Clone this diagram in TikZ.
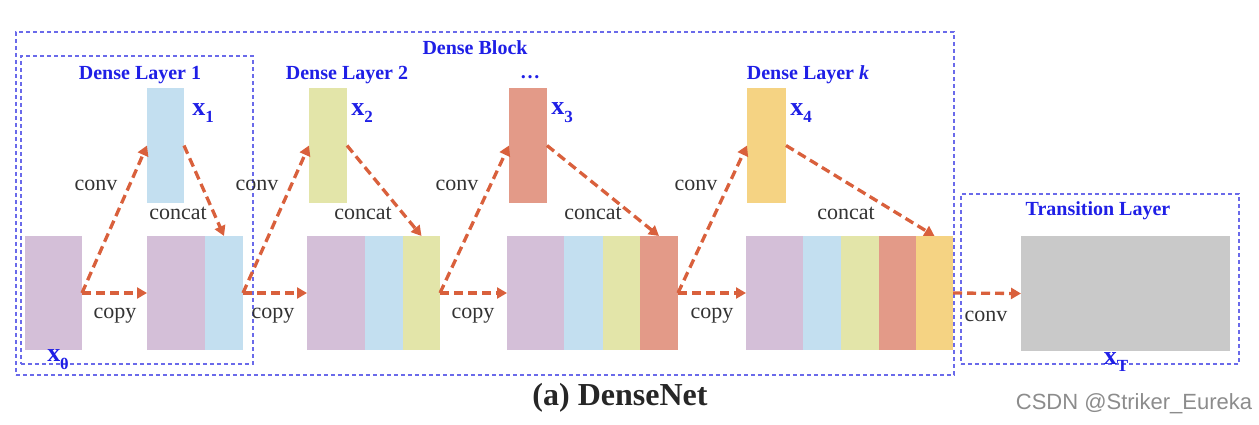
\documentclass[tikz,border=0pt]{standalone}
\usepackage{fontspec}
\setmainfont{Liberation Serif}
\newfontfamily\wmfont{Liberation Sans}
\usetikzlibrary{arrows.meta}
\definecolor{cP}{HTML}{D4BFD8}
\definecolor{cB}{HTML}{C3DFF0}
\definecolor{cY}{HTML}{E3E5A9}
\definecolor{cR}{HTML}{E39A88}
\definecolor{cO}{HTML}{F5D383}
\definecolor{cG}{HTML}{C9C9C9}
\definecolor{cArr}{HTML}{D9603C}
\definecolor{cBox}{HTML}{6A6AEA}
\definecolor{cTxt}{HTML}{1F1FE6}
\definecolor{cLbl}{HTML}{333333}
\newcommand{\xsub}[1]{x\raisebox{-0.3em}{\fontsize{17}{20}\selectfont #1}}
\tikzset{
  blk/.style={inner sep=0pt, outer sep=0pt, draw=none, anchor=north west, minimum height=114pt},
  smallblk/.style={inner sep=0pt, outer sep=0pt, draw=none, anchor=north west, minimum width=38pt, minimum height=115pt},
  arr/.style={draw=cArr, line width=3.3pt, dash pattern=on 9pt off 5pt, -{Triangle[length=10pt,width=11pt]}},
  dbox/.style={draw=cBox, line width=1.7pt, dash pattern=on 4pt off 3pt, inner sep=0pt, anchor=north west},
  ttl/.style={text=cTxt, font=\fontsize{20}{24}\selectfont\bfseries, inner sep=0pt},
  xl/.style={text=cTxt, font=\fontsize{26}{30}\selectfont\bfseries, inner sep=0pt},
  lbl/.style={text=cLbl, font=\fontsize{22}{26}\selectfont, inner sep=0pt},
}
\begin{document}
\begin{tikzpicture}[x=1pt,y=-1pt]
\useasboundingbox (0,0) rectangle (1259,425);
% boxes
\node[dbox, minimum width=938pt, minimum height=343pt] (dblock) at (15,31) {};
\node[dbox, minimum width=232pt, minimum height=308pt] (dl1) at (20,55) {};
\node[dbox, minimum width=278pt, minimum height=170pt] (tl) at (960,193) {};
% bottom blocks
\node[blk, fill=cP, minimum width=57pt] (x0) at (25,236) {};
\node[blk, fill=cP, minimum width=58pt] (b2a) at (147,236) {};
\node[blk, fill=cB, minimum width=38pt] (b2b) at (205,236) {};
\node[blk, fill=cP, minimum width=58pt] (b3a) at (307,236) {};
\node[blk, fill=cB, minimum width=38pt] (b3b) at (365,236) {};
\node[blk, fill=cY, minimum width=37pt] (b3c) at (403,236) {};
\node[blk, fill=cP, minimum width=57pt] (b4a) at (507,236) {};
\node[blk, fill=cB, minimum width=39pt] (b4b) at (564,236) {};
\node[blk, fill=cY, minimum width=37pt] (b4c) at (603,236) {};
\node[blk, fill=cR, minimum width=38pt] (b4d) at (640,236) {};
\node[blk, fill=cP, minimum width=57pt] (b5a) at (746,236) {};
\node[blk, fill=cB, minimum width=38pt] (b5b) at (803,236) {};
\node[blk, fill=cY, minimum width=38pt] (b5c) at (841,236) {};
\node[blk, fill=cR, minimum width=37pt] (b5d) at (879,236) {};
\node[blk, fill=cO, minimum width=37pt] (b5e) at (916,236) {};
\node[blk, fill=cG, minimum width=209pt, minimum height=115pt] (xT) at (1021,236) {};
% small blocks
\node[smallblk, fill=cB, minimum width=37pt] (x1) at (147,88) {};
\node[smallblk, fill=cY] (x2) at (309,88) {};
\node[smallblk, fill=cR] (x3) at (509,88) {};
\node[smallblk, fill=cO, minimum width=39pt] (x4) at (747,88) {};
% arrows
\draw[arr] (x0.east) -- (b2a.west);
\draw[arr] (x0.east) -- (x1.west);
\draw[arr] (x1.east) -- (b2b.north);
\draw[arr] (b2b.east) -- (b3a.west);
\draw[arr] (b2b.east) -- (x2.west);
\draw[arr] (x2.east) -- (b3c.north);
\draw[arr] (b3c.east) -- (b4a.west);
\draw[arr] (b3c.east) -- (x3.west);
\draw[arr] (x3.east) -- (b4d.north);
\draw[arr] (b4d.east) -- (b5a.west);
\draw[arr] (b4d.east) -- (x4.west);
\draw[arr] (x4.east) -- (b5e.north);
\draw[arr] (b5e.east) -- (xT.west);
% titles
\node[ttl] (tdb) at (475,48) {Dense Block};
\node[ttl] (tdl1) at (140,75) {Dense Layer 1};
\node[ttl] (tdl2) at (347,75) {Dense Layer 2};
\node[ttl] (tdots) at (530,77) {\dots};
\node[ttl] (tdlk) at (808,75) {Dense Layer \textit{k}};
\node[ttl] (ttl) at (1098,211) {Transition Layer};
% x labels
\node[xl] (lx1) at (203,113) {\xsub{1}};
\node[xl] (lx2) at (362,113) {\xsub{2}};
\node[xl] (lx3) at (562,113) {\xsub{3}};
\node[xl] (lx4) at (801,113) {\xsub{4}};
\node[xl] (lx0) at (58,360) {\xsub{0}};
\node[xl] (lxT) at (1116,362) {\xsub{T}};
% operation labels
\node[lbl] (c1) at (96,185) {conv};
\node[lbl] (c2) at (257,185) {conv};
\node[lbl] (c3) at (457,185) {conv};
\node[lbl] (c4) at (696,185) {conv};
\node[lbl] (k1) at (178,213) {concat};
\node[lbl] (k2) at (363,213) {concat};
\node[lbl] (k3) at (593,213) {concat};
\node[lbl] (k4) at (846,213) {concat};
\node[lbl] (p1) at (115,316) {copy};
\node[lbl] (p2) at (273,316) {copy};
\node[lbl] (p3) at (473,316) {copy};
\node[lbl] (p4) at (712,316) {copy};
\node[lbl] (c5) at (986,316) {conv};
% caption
\node[inner sep=0pt, font=\fontsize{32}{36}\selectfont\bfseries, text=black!85] (cap) at (620,398) {(a) DenseNet};
\node[inner sep=0pt, font=\wmfont\fontsize{22}{25}\selectfont, text=black!45] (wm) at (1134,404) {CSDN @Striker\_Eureka};
\end{tikzpicture}
\end{document}
